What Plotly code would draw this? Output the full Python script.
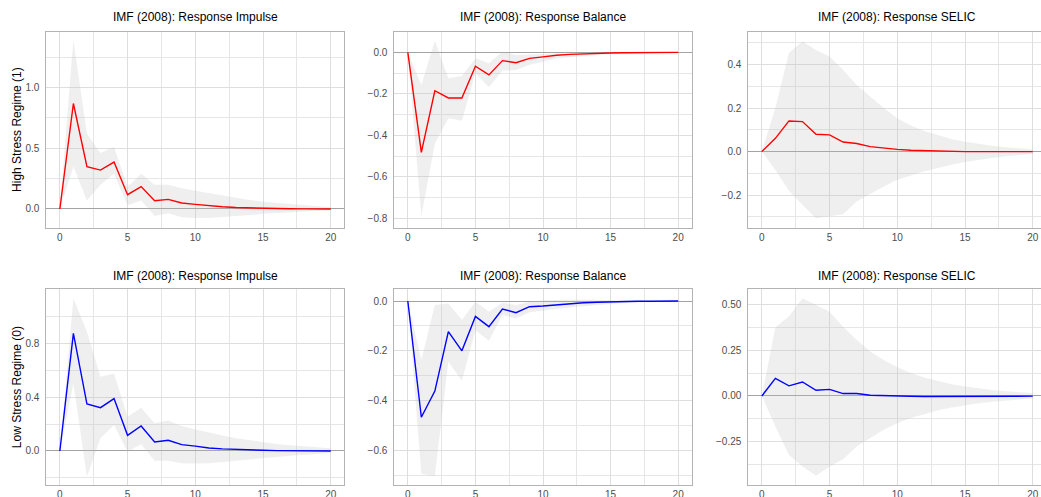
import plotly.graph_objects as go

horizon = list(range(21))

hi_imp_mid = [0, 0.868, 0.348, 0.32, 0.386, 0.118, 0.184, 0.068, 0.079, 0.049, 0.038, 0.025, 0.018, 0.012, 0.008, 0.005, 0.003, 0.002, 0.001, 0.001, 0.0]
hi_imp_up = [0, 1.39, 0.62, 0.46, 0.51, 0.18, 0.29, 0.20, 0.20, 0.17, 0.15, 0.13, 0.11, 0.09, 0.075, 0.06, 0.05, 0.04, 0.03, 0.02, 0.015]
hi_imp_lo = [0, 0.35, 0.07, 0.20, 0.29, 0.03, 0.07, -0.057, -0.035, -0.068, -0.075, -0.075, -0.07, -0.06, -0.05, -0.04, -0.03, -0.025, -0.02, -0.015, -0.01]

hi_bal_mid = [0, -0.482, -0.185, -0.22, -0.22, -0.067, -0.109, -0.04, -0.05, -0.029, -0.022, -0.014, -0.01, -0.007, -0.005, -0.003, -0.002, -0.001, -0.001, 0, 0]
hi_bal_up = [0, -0.157, 0.056, -0.125, -0.114, -0.029, -0.053, 0.003, -0.013, -0.01, -0.008, -0.005, -0.003, -0.002, -0.001, -0.001, 0, 0, 0, 0, 0]
hi_bal_lo = [0, -0.79, -0.44, -0.318, -0.33, -0.10, -0.168, -0.088, -0.085, -0.06, -0.045, -0.03, -0.022, -0.016, -0.012, -0.008, -0.006, -0.004, -0.003, -0.002, -0.001]

hi_sel_mid = [0, 0.061, 0.141, 0.138, 0.08, 0.077, 0.044, 0.037, 0.023, 0.016, 0.01, 0.006, 0.004, 0.002, 0.001, 0, 0, 0, 0, 0, 0]
hi_sel_up = [0, 0.2, 0.455, 0.506, 0.467, 0.437, 0.375, 0.306, 0.253, 0.2, 0.153, 0.12, 0.095, 0.075, 0.058, 0.045, 0.035, 0.027, 0.02, 0.015, 0.011]
hi_sel_lo = [0, -0.085, -0.18, -0.245, -0.307, -0.296, -0.288, -0.23, -0.196, -0.16, -0.13, -0.11, -0.09, -0.074, -0.06, -0.048, -0.038, -0.03, -0.022, -0.016, -0.011]

lo_imp_mid = [0, 0.872, 0.348, 0.321, 0.388, 0.116, 0.185, 0.067, 0.079, 0.047, 0.036, 0.022, 0.016, 0.011, 0.007, 0.005, 0.003, 0.002, 0.001, 0.001, 0]
lo_imp_up = [0, 1.13, 0.884, 0.55, 0.575, 0.254, 0.32, 0.205, 0.225, 0.185, 0.16, 0.135, 0.115, 0.095, 0.08, 0.065, 0.052, 0.042, 0.033, 0.025, 0.02]
lo_imp_lo = [0, 0.5, -0.19, 0.094, 0.193, -0.005, 0.05, -0.072, -0.072, -0.091, -0.092, -0.09, -0.085, -0.075, -0.065, -0.055, -0.045, -0.035, -0.027, -0.02, -0.015]

lo_bal_mid = [0, -0.467, -0.362, -0.123, -0.2, -0.062, -0.103, -0.032, -0.047, -0.023, -0.02, -0.015, -0.01, -0.007, -0.005, -0.003, -0.002, -0.001, -0.001, 0, 0]
lo_bal_up = [0, -0.237, -0.016, -0.01, -0.076, -0.003, -0.043, -0.007, -0.016, -0.003, 0.003, 0.005, 0.006, 0.006, 0.005, 0.004, 0.003, 0.002, 0.002, 0.001, 0.001]
lo_bal_lo = [0, -0.695, -0.703, -0.244, -0.32, -0.117, -0.16, -0.056, -0.07, -0.045, -0.038, -0.032, -0.026, -0.02, -0.015, -0.011, -0.008, -0.006, -0.004, -0.003, -0.002]

lo_sel_mid = [0, 0.096, 0.055, 0.076, 0.031, 0.036, 0.013, 0.013, 0.004, 0.001, -0.001, -0.002, -0.003, -0.003, -0.003, -0.002, -0.002, -0.001, -0.001, -0.001, -0.001]
lo_sel_up = [0, 0.375, 0.433, 0.533, 0.496, 0.46, 0.378, 0.305, 0.242, 0.196, 0.156, 0.125, 0.1, 0.08, 0.064, 0.051, 0.041, 0.033, 0.026, 0.02, 0.016]
lo_sel_lo = [0, -0.167, -0.322, -0.385, -0.436, -0.385, -0.345, -0.276, -0.23, -0.185, -0.149, -0.12, -0.097, -0.078, -0.063, -0.05, -0.04, -0.032, -0.025, -0.019, -0.014]

panel_titles = ["IMF (2008): Response Impulse", "IMF (2008): Response Balance", "IMF (2008): Response SELIC"]
row_titles = ["High Stress Regime (1)", "Low Stress Regime (0)"]

W, H = 1041, 497
FONT = "Liberation Sans, Arial, sans-serif"

panels = [
    # (mid, lo, up, color, yrange, dtick, fmt)
    (hi_imp_mid, hi_imp_lo, hi_imp_up, "#FF0000", [-0.154, 1.455], 0.5, ".1f"),
    (hi_bal_mid, hi_bal_lo, hi_bal_up, "#FF0000", [-0.845, 0.097], 0.2, ".1f"),
    (hi_sel_mid, hi_sel_lo, hi_sel_up, "#FF0000", [-0.35, 0.549], 0.2, ".1f"),
    (lo_imp_mid, lo_imp_lo, lo_imp_up, "#0000FF", [-0.252, 1.198], 0.4, ".1f"),
    (lo_bal_mid, lo_bal_lo, lo_bal_up, "#0000FF", [-0.739, 0.047], 0.2, ".1f"),
    (lo_sel_mid, lo_sel_lo, lo_sel_up, "#0000FF", [-0.486, 0.582], 0.25, ".2f"),
]

col_px = [(46.3, 344.3), (394.3, 691.7), (748.3, 1046.3)]
row_px = [(32.2, 227.7), (289.3, 485.0)]
xranges = [[-1, 21], [-1, 21], [-1, -1 + (W - 748.3) / ((1046.3 - 748.3) / 22)]]

fig = go.Figure()
layout = dict(
    width=W, height=H, margin=dict(l=0, r=0, t=0, b=0),
    paper_bgcolor="white", plot_bgcolor="white", showlegend=False,
    font=dict(family=FONT),
)
annotations = []

for i, (mid, lo, up, color, yr, dt, fmt) in enumerate(panels):
    r, c = divmod(i, 3)
    n = i + 1
    xa = "x" if n == 1 else f"x{n}"
    ya = "y" if n == 1 else f"y{n}"
    fig.add_trace(go.Scatter(
        x=horizon + horizon[::-1], y=up + lo[::-1], fill="toself",
        fillcolor="rgba(190,190,190,0.24)", line=dict(width=0), mode="lines",
        hoverinfo="skip", xaxis=xa, yaxis=ya))
    fig.add_trace(go.Scatter(
        x=horizon, y=mid, mode="lines", line=dict(color=color, width=1.4),
        xaxis=xa, yaxis=ya))
    x0, x1 = col_px[c]
    y0, y1 = row_px[r]
    dom_x = [x0 / W, min(x1 / W, 1.0)]
    dom_y = [1 - y1 / H, 1 - y0 / H]
    axkey_x = "xaxis" if n == 1 else f"xaxis{n}"
    axkey_y = "yaxis" if n == 1 else f"yaxis{n}"
    layout[axkey_x] = dict(
        domain=dom_x, anchor=ya, range=xranges[c], dtick=5, tick0=0,
        showgrid=True, gridcolor="#DEDEDE", gridwidth=1,
        minor=dict(dtick=2.5, tick0=0, showgrid=True, gridcolor="#E6E6E6", gridwidth=1),
        zeroline=False, showline=True, mirror=True, linecolor="#B3B3B3", linewidth=1,
        ticks="", 
        tickfont=dict(size=10, color="#4D4D4D", family=FONT), automargin=False,
        fixedrange=True,
    )
    layout[axkey_y] = dict(
        domain=dom_y, anchor=xa, range=yr, dtick=dt, tick0=0, tickformat=fmt,
        showgrid=True, gridcolor="#DEDEDE", gridwidth=1,
        minor=dict(dtick=dt / 2, tick0=0, showgrid=True, gridcolor="#E6E6E6", gridwidth=1),
        zeroline=True, zerolinecolor="#A3A3A3", zerolinewidth=1.3,
        showline=True, mirror=(c != 2), linecolor="#B3B3B3", linewidth=1,
        ticks="outside", ticklen=4, tickcolor="rgba(0,0,0,0)",
        tickfont=dict(size=10, color="#4D4D4D", family=FONT), automargin=False,
        fixedrange=True,
    )
    title_y = 17.5 if r == 0 else 276.0
    annotations.append(dict(
        text=panel_titles[c], xref="paper", yref="paper",
        x=((x0 + x1) / 2) / W, y=1 - title_y / H, xanchor="center", yanchor="middle",
        showarrow=False, font=dict(size=12, color="black", family=FONT)))

for r in range(2):
    y0, y1 = row_px[r]
    annotations.append(dict(
        text=row_titles[r], xref="paper", yref="paper", textangle=-90,
        x=17 / W, y=1 - ((y0 + y1) / 2) / H, xanchor="center", yanchor="middle",
        showarrow=False, font=dict(size=12, color="black", family=FONT)))

layout["annotations"] = annotations
fig.update_layout(**layout)
fig.write_html("out.html")
